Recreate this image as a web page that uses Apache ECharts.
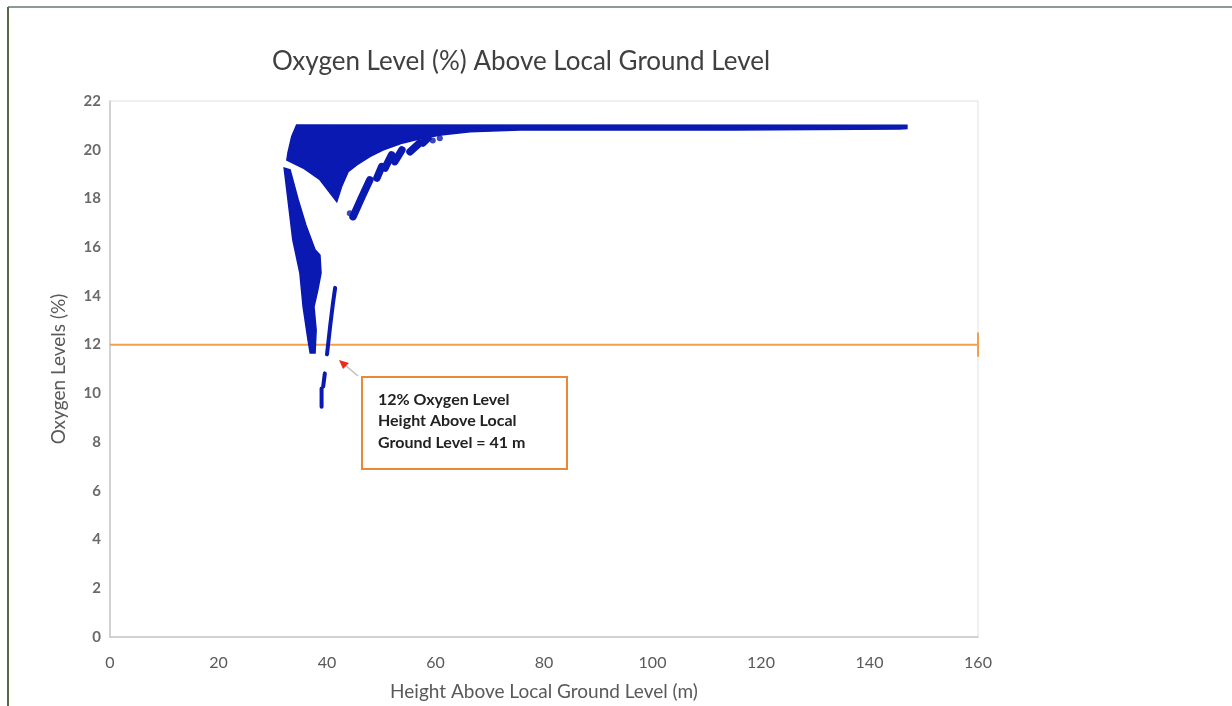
<!DOCTYPE html>
<html>
<head>
<meta charset="utf-8">
<script src="https://cdn.jsdelivr.net/npm/echarts@6/dist/echarts.min.js"></script>
<style>html,body{margin:0;padding:0;background:#fff;}#chart{width:1232px;height:706px;}</style>
</head>
<body>
<div id="chart"></div>
<script>
// ---- data ----
const titleText = 'Oxygen Level (%) Above Local Ground Level';
const xAxisName = 'Height Above Local Ground Level (m)';
const yAxisName = 'Oxygen Levels (%)';
const xTicks = [0, 20, 40, 60, 80, 100, 120, 140, 160];
const yTicks = [0, 2, 4, 6, 8, 10, 12, 14, 16, 18, 20, 22];

// dense upper cloud (outline of the filled region): [height m, oxygen %]
const upperCloud = [
  [34.4, 21.02], [146.9, 21.0], [146.9, 20.87], [145.6, 20.85], [114.8, 20.81],
  [75.6, 20.81], [66.4, 20.74], [61.4, 20.61], [57.7, 20.48], [54.0, 20.28],
  [50.3, 19.99], [47.9, 19.72], [45.5, 19.38], [43.9, 19.10], [42.7, 18.49],
  [41.8, 17.87], [38.7, 18.77], [35.6, 19.25], [32.6, 19.58], [32.8, 19.87],
  [33.5, 20.54]
];
// dense lower spike (outline)
const lowerSpike = [
  [32.1, 19.25], [33.7, 16.30], [35.0, 14.94], [35.6, 13.55], [36.5, 12.19],
  [36.9, 11.66], [37.8, 11.66], [38.0, 12.60], [37.6, 13.55], [38.3, 14.24],
  [38.9, 14.94], [38.7, 15.68], [37.8, 15.89], [36.1, 16.91], [34.7, 17.94],
  [33.2, 19.17]
];
// thin point trails below the spike
const thinTrails = [
  [[41.5, 14.33], [41.1, 13.7], [40.6, 12.8], [40.0, 11.6]],
  [[39.6, 10.82], [39.3, 10.28]],
  [[39.0, 10.2], [39.0, 9.45]]
];
// separate blobs along the recovery curve
const blobTrails = [
  [[44.8, 17.25], [46.3, 18.0], [47.9, 18.76]],
  [[49.2, 18.84], [50.1, 19.31]],
  [[50.7, 19.25], [51.9, 19.79]],
  [[52.5, 19.51], [53.8, 19.99]],
  [[55.3, 19.92], [57.1, 20.28]],
  [[57.7, 20.28], [58.6, 20.48]]
];
const isolatedPoints = [[44.2, 17.39], [59.5, 20.38], [60.8, 20.47], [46.1, 19.87], [44.2, 19.51]];

// 12 % reference line
const refLevel = 12;
const refLine = [[0, refLevel], [160, refLevel]];
const refCap = [[160, 11.5], [160, 12.5]];
const annotationLines = ['12% Oxygen Level', 'Height Above Local', 'Ground Level = 41 m'];

// ---- chart ----
const BLUE = '#0a19b2';
const ORANGE = '#f2a04c';
const FONT = 'Lato, "Open Sans", sans-serif';

const chart = echarts.init(document.getElementById('chart'));

function polyRender(shapes, kind, width) {
  return function (params, api) {
    const pts = shapes[params.dataIndex].map(p => api.coord(p));
    if (kind === 'polygon') {
      return { type: 'polygon', shape: { points: pts }, style: { fill: BLUE, stroke: BLUE, lineWidth: 1.5 } };
    }
    return { type: 'polyline', shape: { points: pts }, style: { fill: null, stroke: BLUE, lineWidth: width, lineCap: 'round', lineJoin: 'round' } };
  };
}

const option = {
  animation: false,
  backgroundColor: '#ffffff',
  title: {
    text: titleText, left: 516, top: 44, textAlign: 'center',
    textStyle: { fontFamily: FONT, fontSize: 26, fontWeight: 'normal', color: '#404040' }
  },
  grid: { left: 110, right: 254, top: 101, bottom: 69, show: true, borderColor: '#e0e0e0', borderWidth: 1 },
  xAxis: {
    type: 'value', min: xTicks[0], max: xTicks[xTicks.length - 1], interval: 20,
    name: xAxisName, nameLocation: 'middle', nameGap: 45,
    nameTextStyle: { fontFamily: FONT, fontSize: 19, color: '#595959' },
    axisLine: { show: true, lineStyle: { color: '#c8c8c8', width: 1.5 } },
    axisTick: { show: false },
    axisLabel: { fontFamily: FONT, fontSize: 16, color: '#595959', margin: 18 },
    splitLine: { show: false }
  },
  yAxis: {
    type: 'value', min: yTicks[0], max: yTicks[yTicks.length - 1], interval: 2,
    name: yAxisName, nameLocation: 'middle', nameGap: 42,
    nameTextStyle: { fontFamily: FONT, fontSize: 19, color: '#595959' },
    axisLine: { show: true, lineStyle: { color: '#c8c8c8', width: 1.5 } },
    axisTick: { show: false },
    axisLabel: { fontFamily: FONT, fontSize: 15, fontWeight: 'bold', color: '#6a6a6a', margin: 9 },
    splitLine: { show: false }
  },
  series: [
    { type: 'custom', name: 'cloud', data: [[0], [1]], renderItem: polyRender([upperCloud, lowerSpike], 'polygon'), z: 3 },
    { type: 'custom', name: 'thin', data: thinTrails.map((_, i) => [i]), renderItem: polyRender(thinTrails, 'line', 4), z: 3 },
    { type: 'custom', name: 'blobs', data: blobTrails.map((_, i) => [i]), renderItem: polyRender(blobTrails, 'line', 7.5), z: 3 },
    { type: 'scatter', data: isolatedPoints, symbolSize: 6, itemStyle: { color: BLUE }, z: 3 },
    { type: 'line', data: refLine, symbol: 'none', lineStyle: { color: ORANGE, width: 2 }, z: 2 },
    { type: 'line', data: refCap, symbol: 'none', lineStyle: { color: ORANGE, width: 2 }, z: 2 }
  ],
  graphic: [
    { type: 'line', shape: { x1: 8, y1: 7, x2: 1232, y2: 7 }, style: { stroke: '#8c9a94', lineWidth: 2 } },
    { type: 'line', shape: { x1: 8, y1: 7, x2: 8, y2: 706 }, style: { stroke: '#5a6648', lineWidth: 2 } },
    { type: 'line', shape: { x1: 358, y1: 376, x2: 345, y2: 365 }, style: { stroke: '#c0c0c0', lineWidth: 1.5 }, z: 10 },
    { type: 'polygon', shape: { points: [[339, 360], [349, 363], [343, 369]] }, style: { fill: '#ee2a1a' }, z: 10 },
    { type: 'rect', shape: { x: 362, y: 377, width: 205, height: 92 }, style: { fill: '#ffffff', stroke: '#e8893a', lineWidth: 2 }, z: 10 },
    { type: 'text', left: 378, top: 389, z: 11,
      style: { text: annotationLines.join('\n'), fontFamily: FONT, fontSize: 16, fontWeight: 'bold', lineHeight: 21.5, fill: '#222222' } }
  ]
};
chart.setOption(option);
</script>
</body>
</html>
